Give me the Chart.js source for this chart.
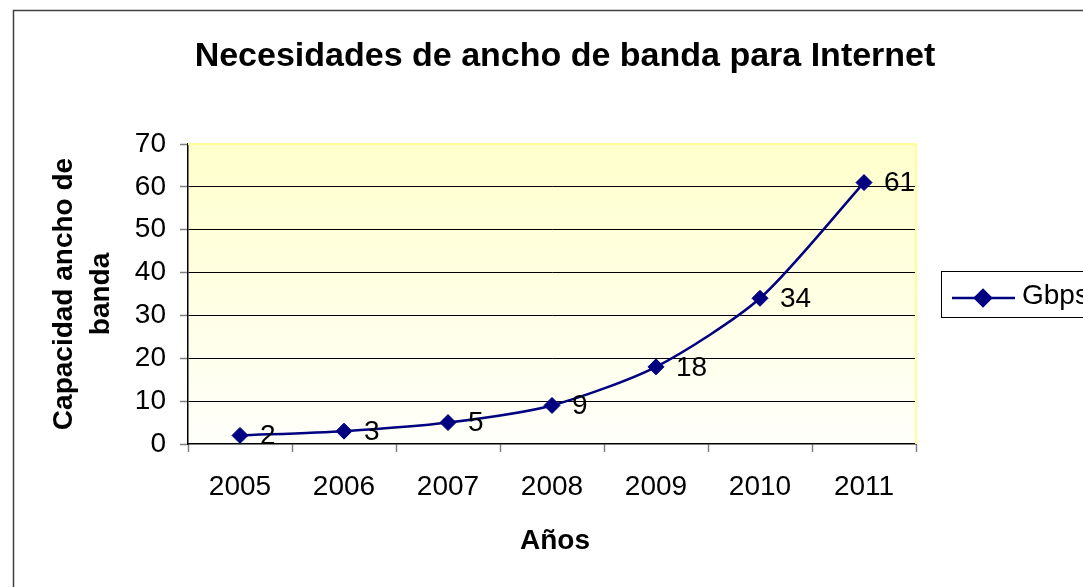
<!DOCTYPE html>
<html lang="es">
<head>
<meta charset="utf-8">
<title>Necesidades de ancho de banda para Internet</title>
<script src="https://cdn.jsdelivr.net/npm/chart.js@4/dist/chart.umd.min.js"></script>
<style>
    html, body { margin: 0; padding: 0; background: #ffffff; }
    #wrap { position: relative; width: 1083px; height: 587px; }
</style>
</head>
<body>
<div id="wrap"><canvas id="bandwidthChart" width="1083" height="587"></canvas></div>
<script>
// Chart data
const years = ['2005', '2006', '2007', '2008', '2009', '2010', '2011'];
const gbps = [2, 3, 5, 9, 18, 34, 61];
const yTicks = [0, 10, 20, 30, 40, 50, 60, 70];

const chartTitle = 'Necesidades de ancho de banda para Internet';
const yTitle = ['Capacidad ancho de', 'banda'];
const xTitle = 'Años';
const seriesLabel = 'Gbps';

(function() {
    const FONT = '"Liberation Sans", Arial, sans-serif';
    const NAVY = '#000080';

    // Plot area in pixels (matches the reference picture)
    const area = { left: 188, top: 144, right: 916, bottom: 444 };
    const Y_SCALE_W = 60;
    const X_SCALE_H = 60;

    /**
     * Draw the yellow gradient behind the plot, titles, legend, labels and frame
     */
    const decorPlugin = {
        id: 'excelDecor',
        beforeDraw(chart) {
            const { ctx, chartArea: a } = chart;
            ctx.save();
            const grad = ctx.createLinearGradient(0, a.top, 0, a.bottom);
            grad.addColorStop(0, '#ffffcc');
            grad.addColorStop(1, '#fffffb');
            ctx.fillStyle = grad;
            ctx.fillRect(a.left, a.top, a.right - a.left, a.bottom - a.top);
            ctx.restore();
        },
        afterDraw(chart) {
            const { ctx, chartArea: a } = chart;
            ctx.save();

            // yellow plot border on top and right
            ctx.strokeStyle = '#ffff99';
            ctx.lineWidth = 2;
            ctx.beginPath();
            ctx.moveTo(a.left, a.top);
            ctx.lineTo(a.right, a.top);
            ctx.lineTo(a.right, a.bottom);
            ctx.stroke();

            // data labels to the right of each point
            const meta = chart.getDatasetMeta(0);
            ctx.fillStyle = '#000000';
            ctx.font = '28px ' + FONT;
            ctx.textAlign = 'left';
            ctx.textBaseline = 'middle';
            meta.data.forEach((pt, i) => {
                ctx.fillText(String(gbps[i]), pt.x + 20, pt.y + 1);
            });

            // chart title
            ctx.font = 'bold 34px ' + FONT;
            ctx.textAlign = 'center';
            ctx.textBaseline = 'alphabetic';
            ctx.fillText(chartTitle, 565, 66);

            // x axis title
            ctx.font = 'bold 28px ' + FONT;
            ctx.fillText(xTitle, 555, 549);

            // y axis title (two rotated lines)
            ctx.save();
            ctx.translate(0, (a.top + a.bottom) / 2);
            ctx.rotate(-Math.PI / 2);
            ctx.textBaseline = 'middle';
            ctx.fillText(yTitle[0], 0, 64);
            ctx.fillText(yTitle[1], 0, 101);
            ctx.restore();

            // legend box
            ctx.fillStyle = '#ffffff';
            ctx.fillRect(941, 271, 200, 47);
            ctx.strokeStyle = '#000000';
            ctx.lineWidth = 1;
            ctx.strokeRect(941.5, 271.5, 200, 46);
            ctx.strokeStyle = NAVY;
            ctx.lineWidth = 2.5;
            ctx.beginPath();
            ctx.moveTo(952, 298);
            ctx.lineTo(1015, 298);
            ctx.stroke();
            Chart.helpers.drawPoint(ctx, { pointStyle: 'rectRot', radius: 8, borderWidth: 1 }, 983, 298);
            ctx.fillStyle = NAVY;
            ctx.fill();
            ctx.fillStyle = '#000000';
            ctx.font = '28px ' + FONT;
            ctx.textAlign = 'left';
            ctx.textBaseline = 'alphabetic';
            ctx.fillText(seriesLabel, 1022, 304);

            // outer chart frame
            ctx.strokeStyle = '#404040';
            ctx.lineWidth = 1.5;
            ctx.strokeRect(13.5, 10.5, chart.width + 20, chart.height + 20);

            ctx.restore();
        }
    };

    const ctx = document.getElementById('bandwidthChart');

    new Chart(ctx, {
        type: 'line',
        data: {
            labels: years,
            datasets: [{
                label: seriesLabel,
                data: gbps,
                borderColor: NAVY,
                backgroundColor: NAVY,
                borderWidth: 2.5,
                tension: 0.25,
                pointStyle: 'rectRot',
                pointRadius: 8,
                pointBorderWidth: 1,
                pointBackgroundColor: NAVY,
                pointBorderColor: NAVY,
                fill: false
            }]
        },
        options: {
            responsive: false,
            devicePixelRatio: 1,
            animation: false,
            layout: {
                padding: {
                    left: area.left - Y_SCALE_W,
                    top: area.top,
                    right: 1083 - area.right,
                    bottom: 587 - area.bottom - X_SCALE_H
                }
            },
            plugins: {
                legend: { display: false },
                title: { display: false },
                tooltip: { enabled: false }
            },
            scales: {
                x: {
                    offset: true,
                    afterFit: (scale) => { scale.height = X_SCALE_H; },
                    grid: {
                        offset: true,
                        drawOnChartArea: false,
                        drawTicks: true,
                        tickLength: 8,
                        tickColor: '#808080',
                        tickWidth: 1.5
                    },
                    border: { color: '#000000', width: 1.5 },
                    ticks: {
                        color: '#000000',
                        padding: 18,
                        font: { family: FONT, size: 28 },
                        maxRotation: 0,
                        autoSkip: false
                    }
                },
                y: {
                    min: 0,
                    max: 70,
                    afterFit: (scale) => { scale.width = Y_SCALE_W; },
                    afterBuildTicks: (scale) => {
                        scale.ticks = yTicks.map(v => ({ value: v }));
                    },
                    grid: {
                        color: (c) => (c.tick && (c.tick.value === 0 || c.tick.value === 70)) ? 'rgba(0,0,0,0)' : '#000000',
                        lineWidth: 1,
                        tickLength: 8,
                        tickColor: '#808080',
                        tickWidth: 1.5
                    },
                    border: { color: '#000000', width: 1.5 },
                    ticks: {
                        color: '#000000',
                        padding: 14,
                        font: { family: FONT, size: 28 }
                    }
                }
            }
        },
        plugins: [decorPlugin]
    });
})();
</script>
</body>
</html>
